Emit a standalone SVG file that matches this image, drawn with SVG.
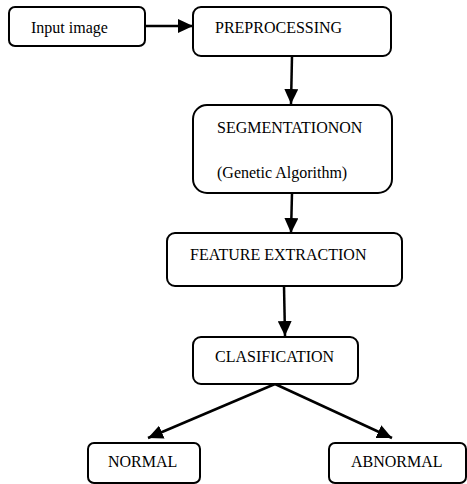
<svg xmlns="http://www.w3.org/2000/svg" width="467" height="484" viewBox="0 0 467 484">
<style>
.box{fill:#fff;stroke:#000;stroke-width:2}
.t{font-family:"Liberation Serif","Times New Roman",serif;font-size:16px;fill:#000}
.c{stroke:#000;stroke-width:2.5;fill:none;marker-end:url(#ah)}
</style>
<defs>
<marker id="ah" markerUnits="userSpaceOnUse" markerWidth="16" markerHeight="14" refX="15" refY="7" orient="auto">
<path d="M0,0 L15,7 L0,14 z" fill="#000"/>
</marker>
</defs>
<rect width="467" height="484" fill="#fff"/>
<g id="connectors">
<line class="c" x1="145" y1="26" x2="193" y2="26"/>
<line class="c" x1="292" y1="56" x2="291" y2="104"/>
<line class="c" x1="292" y1="193" x2="291" y2="233"/>
<line class="c" x1="284" y1="286" x2="285" y2="336"/>
<line class="c" x1="275" y1="384" x2="148" y2="438"/>
<line class="c" x1="275" y1="384" x2="392" y2="438"/>
</g>
<g id="input">
<rect class="box" x="9" y="7" width="136" height="39" rx="6"/>
<text class="t" x="31" y="33">Input image</text>
</g>
<g id="preprocessing">
<rect class="box" x="193" y="7" width="198" height="49" rx="8"/>
<text class="t" x="215" y="33">PREPROCESSING</text>
</g>
<g id="segmentation">
<rect class="box" x="193" y="105" width="199" height="88" rx="14"/>
<text class="t" x="217" y="133">SEGMENTATIONON</text>
<text class="t" x="217" y="178">(Genetic Algorithm)</text>
</g>
<g id="feature">
<rect class="box" x="167" y="233" width="235" height="53" rx="8"/>
<text class="t" x="190" y="260">FEATURE EXTRACTION</text>
</g>
<g id="classification">
<rect class="box" x="193" y="337" width="165" height="47" rx="8"/>
<text class="t" x="215" y="362">CLASIFICATION</text>
</g>
<g id="normal">
<rect class="box" x="88" y="443" width="112" height="40" rx="6"/>
<text class="t" x="108" y="467">NORMAL</text>
</g>
<g id="abnormal">
<rect class="box" x="329" y="443" width="137" height="40" rx="6"/>
<text class="t" x="351" y="467">ABNORMAL</text>
</g>
</svg>
